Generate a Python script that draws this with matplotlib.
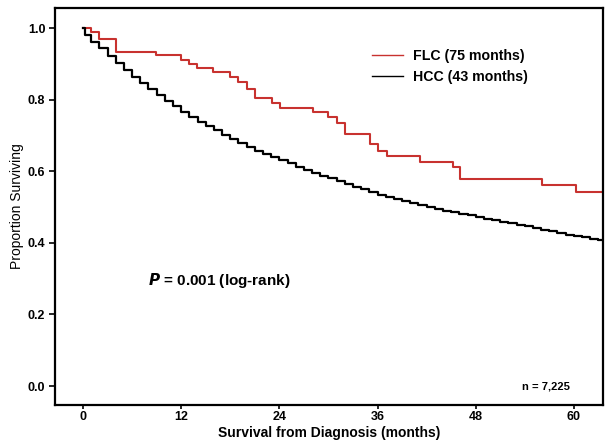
import matplotlib.pyplot as plt

# Kaplan-Meier estimates (months, proportion surviving)
flc_t = [0, 1.0, 2.0, 4.0, 8.9, 12.0, 13.0, 13.9, 15.9, 18.0, 18.9, 20.0, 21.0,
         23.1, 24.1, 28.1, 30.0, 31.0, 32.0, 35.1, 36.1, 37.2, 41.2, 45.2, 46.1,
         56.1, 60.3, 64.0]
flc_s = [1.0, 0.989, 0.969, 0.933, 0.925, 0.911, 0.899, 0.888, 0.877, 0.863,
         0.849, 0.830, 0.804, 0.790, 0.777, 0.765, 0.751, 0.735, 0.704, 0.676,
         0.656, 0.642, 0.626, 0.612, 0.578, 0.561, 0.542, 0.542]

hcc_t = [0, 0.3, 1, 2, 3, 4, 5, 6, 7, 8, 9, 10, 11, 12, 13, 14, 15, 16, 17, 18,
         19, 20, 21, 22, 23, 24, 25, 26, 27, 28, 29, 30, 31, 32, 33, 34, 35, 36,
         37, 38, 39, 40, 41, 42, 43, 44, 45, 46, 47, 48, 49, 50, 51, 52, 53, 54,
         55, 56, 57, 58, 59, 60, 61, 62, 63, 64]
hcc_s = [1.0, 0.98, 0.961, 0.944, 0.922, 0.902, 0.883, 0.864, 0.847, 0.829,
         0.812, 0.796, 0.781, 0.766, 0.752, 0.739, 0.726, 0.714, 0.702, 0.690,
         0.679, 0.669, 0.658, 0.649, 0.640, 0.631, 0.622, 0.613, 0.604, 0.596,
         0.588, 0.580, 0.572, 0.564, 0.557, 0.550, 0.542, 0.535, 0.529, 0.523,
         0.517, 0.511, 0.506, 0.500, 0.495, 0.490, 0.486, 0.481, 0.477, 0.472,
         0.468, 0.463, 0.459, 0.455, 0.450, 0.446, 0.441, 0.437, 0.432, 0.428,
         0.423, 0.419, 0.415, 0.411, 0.407, 0.403]

x_ticks = [0, 12, 24, 36, 48, 60]
y_ticks = [0.0, 0.2, 0.4, 0.6, 0.8, 1.0]

plt.rcParams['font.family'] = ['Liberation Sans', 'DejaVu Sans']

fig = plt.figure(figsize=(6.12, 4.45), dpi=100)
ax = fig.add_axes([0.0899, 0.0899, 0.8955, 0.892])

red = '#c8322f'
ax.step(flc_t, flc_s, where='post', color=red, lw=1.5, label='FLC (75 months)')
ax.step(hcc_t, hcc_s, where='post', color='black', lw=1.6, label='HCC (43 months)')

ax.set_xlim(-3.42, 63.57)
ax.set_ylim(-0.053, 1.056)
ax.set_xticks(x_ticks)
ax.set_yticks(y_ticks)
ax.set_xticklabels([str(v) for v in x_ticks], fontsize=9, fontweight='bold')
ax.set_yticklabels([f'{v:.1f}' for v in y_ticks], fontsize=9, fontweight='bold')
ax.tick_params(axis='x', direction='out', length=3, width=1.2, pad=1.5)
ax.tick_params(axis='y', direction='out', length=4, width=1.2, pad=3)

for s in ax.spines.values():
    s.set_linewidth(1.6)

ax.set_xlabel('Survival from Diagnosis (months)', fontsize=10, fontweight='bold', labelpad=2)
ax.set_ylabel('Proportion Surviving', fontsize=10,
              family=['Liberation Sans Narrow', 'Liberation Sans'], labelpad=3)

leg = ax.legend(loc='upper left', bbox_to_anchor=(0.568, 0.91), frameon=False,
                prop={'size': 10.2, 'weight': 'bold'}, handlelength=2.2,
                handletextpad=0.7, labelspacing=0.45, borderaxespad=0)
for line in leg.get_lines():
    line.set_linewidth(1.0)

ax.text(7.9, 0.296, r'$\mathbfit{P}$ = 0.001 (log-rank)', fontsize=11,
        fontweight='bold', va='center', ha='left')
ax.text(59.5, 0.0, 'n = 7,225', fontsize=8, fontweight='bold', va='center', ha='right')

fig.savefig('out.png', dpi=100)
